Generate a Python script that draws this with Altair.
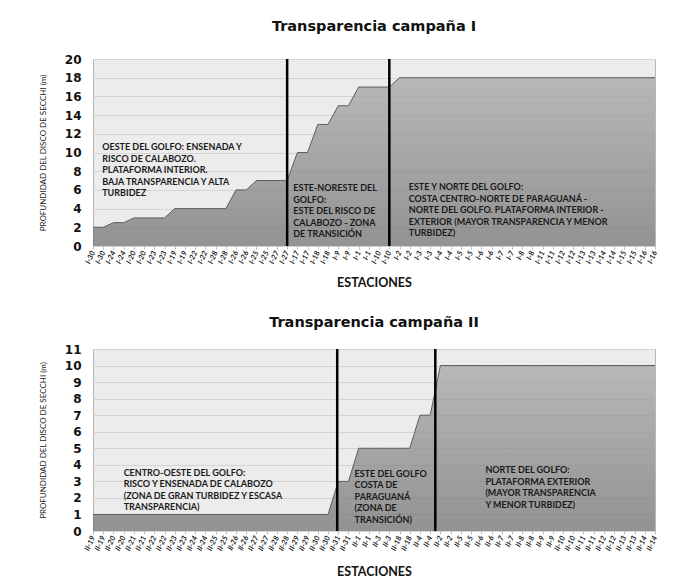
import altair as alt
import pandas as pd

# ---- Campaign I ----
labels1 = ["I-30", "I-30", "I-24", "I-24", "I-20", "I-20", "I-23", "I-23", "I-19", "I-19",
           "I-22", "I-22", "I-28", "I-28", "I-26", "I-26", "I-25", "I-25", "I-27", "I-27",
           "I-17", "I-17", "I-18", "I-18", "I-9", "I-9", "I-1", "I-1", "I-10", "I-10",
           "I-2", "I-2", "I-3", "I-3", "I-4", "I-4", "I-5", "I-5", "I-6", "I-6",
           "I-7", "I-7", "I-8", "I-8", "I-11", "I-11", "I-12", "I-12", "I-13", "I-13",
           "I-14", "I-14", "I-15", "I-15", "I-16", "I-16"]
values1 = [2, 2, 2.5, 2.5, 3, 3, 3, 3, 4, 4,
           4, 4, 4, 4, 6, 6, 7, 7, 7, 7,
           10, 10, 13, 13, 15, 15, 17, 17, 17, 17,
           18, 18, 18, 18, 18, 18, 18, 18, 18, 18,
           18, 18, 18, 18, 18, 18, 18, 18, 18, 18,
           18, 18, 18, 18, 18, 18]
yticks1 = [0, 2, 4, 6, 8, 10, 12, 14, 16, 18, 20]
dividers1 = [19, 29]
notes1_text = [
    "OESTE DEL GOLFO: ENSENADA Y\nRISCO DE CALABOZO.\nPLATAFORMA INTERIOR.\nBAJA TRANSPARENCIA Y ALTA\nTURBIDEZ",
    "ESTE-NORESTE DEL\nGOLFO:\nESTE DEL RISCO DE\nCALABOZO -  ZONA\nDE TRANSICIÓN",
    "ESTE Y NORTE DEL GOLFO:\nCOSTA CENTRO-NORTE DE PARAGUANÁ -\nNORTE DEL GOLFO. PLATAFORMA INTERIOR -\nEXTERIOR  (MAYOR TRANSPARENCIA Y MENOR\nTURBIDEZ)",
]
notes1_x = [0.9, 19.6, 30.9]
notes1_y = [11.0, 6.6, 6.7]

# ---- Campaign II ----
labels2 = ["II-19", "II-19", "II-20", "II-20", "II-21", "II-21", "II-22", "II-22", "II-23", "II-23",
           "II-24", "II-24", "II-25", "II-25", "II-26", "II-26", "II-27", "II-27", "II-28", "II-28",
           "II-29", "II-29", "II-30", "II-30", "II-31", "II-31", "II-1", "II-1", "II-3", "II-3",
           "II-18", "II-18", "II-4", "II-4", "II-2", "II-2", "II-5", "II-5", "II-6", "II-6",
           "II-7", "II-7", "II-8", "II-8", "II-9", "II-9", "II-10", "II-10", "II-11", "II-11",
           "II-12", "II-12", "II-13", "II-13", "II-14", "II-14"]
values2 = [1, 1, 1, 1, 1, 1, 1, 1, 1, 1,
           1, 1, 1, 1, 1, 1, 1, 1, 1, 1,
           1, 1, 1, 1, 3, 3, 5, 5, 5, 5,
           5, 5, 7, 7, 10, 10, 10, 10, 10, 10,
           10, 10, 10, 10, 10, 10, 10, 10, 10, 10,
           10, 10, 10, 10, 10, 10]
yticks2 = [0, 1, 2, 3, 4, 5, 6, 7, 8, 9, 10, 11]
dividers2 = [23.9, 33.5]
notes2_text = [
    "CENTRO-OESTE DEL GOLFO:\nRISCO Y ENSENADA DE CALABOZO\n (ZONA DE GRAN TURBIDEZ Y ESCASA\nTRANSPARENCIA)",
    "ESTE DEL GOLFO\nCOSTA  DE\nPARAGUANÁ\n(ZONA DE\nTRANSICIÓN)",
    "NORTE DEL GOLFO:\nPLATAFORMA EXTERIOR\n(MAYOR TRANSPARENCIA\nY MENOR TURBIDEZ)",
]
notes2_x = [3.0, 25.6, 38.4]
notes2_y = [3.75, 3.7, 3.9]

FONT = "Lato"
TFONT = "DejaVu Sans"
grad = alt.Gradient(
    gradient="linear",
    stops=[alt.GradientStop(color="#a2a2a2", offset=0),
           alt.GradientStop(color="#6c6c6c", offset=1)],
    x1=0, x2=0, y1=0, y2=1,
)


def panel(title, labels, values, yticks, dividers, ntext, nx, ny, h, toff, xtpad):
    n = len(labels)
    df = pd.DataFrame({"i": list(range(n)), "v": values})
    arr = "[" + ",".join("'" + l + "'" for l in labels) + "]"
    xs = alt.Scale(domain=[0, n - 1], nice=False, zero=False)
    ys = alt.Scale(domain=[yticks[0], yticks[-1]], nice=False)
    x = alt.X("i:Q", scale=xs, axis=alt.Axis(
        values=list(range(n)), tickCount=n, labelExpr=arr + "[datum.value]", labelAngle=-65,
        labelFontSize=7.5, labelFont=FONT, labelFontStyle="italic", labelFontWeight="bold",
        labelColor="#222", labelOverlap=False, labelPadding=2, labelBound=False,
        title="ESTACIONES", titleFont=FONT, titleFontSize=12.5, titleFontWeight="bold",
        titleColor="#111", titlePadding=xtpad, grid=False, domain=False,
        tickSize=3, tickColor="#bbbbbb"))
    y = alt.Y("v:Q", scale=ys, axis=alt.Axis(
        values=yticks, tickCount=len(yticks), labelOverlap=False,
        labelFontSize=12, labelFont=TFONT,
        labelFontWeight="bold", labelColor="#111", labelPadding=12,
        title="PROFUNDIDAD DEL DISCO DE SECCHI (m)", titleFont=FONT, titleFontSize=8,
        titleFontWeight="normal", titleColor="#222", titlePadding=17,
        domain=False, ticks=False, gridColor="#d4d4d4"))
    area = alt.Chart(df).mark_area(color=grad, line={"color": "#5e5e5e", "strokeWidth": 1}).encode(x=x, y=y)
    rules = alt.Chart(pd.DataFrame({"i": dividers})).mark_rule(
        color="black", strokeWidth=2.5).encode(x=alt.X("i:Q", scale=xs))
    tdf = pd.DataFrame({"i": nx, "v": ny, "t": ntext})
    text = alt.Chart(tdf).mark_text(
        align="left", baseline="top", lineBreak="\n", font=FONT, fontWeight="bold",
        fontSize=9, lineHeight=11.5, color="#1a1a1a").encode(
        x=alt.X("i:Q", scale=xs), y=alt.Y("v:Q", scale=ys), text="t:N")
    return alt.layer(area, rules, text).properties(
        width=562, height=h,
        title=alt.TitleParams(title, font=TFONT, fontSize=14.5, fontWeight="bold",
                              color="#111", offset=toff, anchor="middle"))


top = panel("Transparencia campaña I", labels1, values1, yticks1, dividers1,
            notes1_text, notes1_x, notes1_y, 187, 19, 12)
bottom = panel("Transparencia campaña II", labels2, values2, yticks2, dividers2,
               notes2_text, notes2_x, notes2_y, 182, 13, 14)

chart = alt.vconcat(top, bottom, spacing=24).properties(
    padding={"left": 30, "top": 10, "right": 5, "bottom": 5}
).configure_view(fill="#ececec", stroke="#b5b5b5")

chart.save("out.html", embed_options={"renderer": "svg", "actions": False})
